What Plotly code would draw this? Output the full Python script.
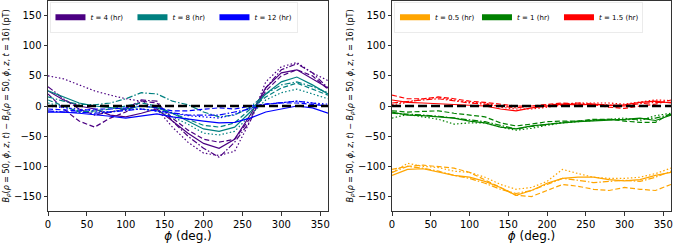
import plotly.graph_objects as go

phi = [0, 20, 40, 60, 80, 100, 120, 140, 160, 180, 200, 220, 240, 260, 280, 300, 320, 340, 360]

# Left panel: t = 4, 8, 12 hr; four line styles each
t4_solid   = [25, 10, 0, -5, -15, -18, -12, -5, -25, -45, -62, -70, -55, -15, 30, 55, 60, 45, 30]
t4_dashed  = [20, -5, -25, -35, -20, -10, 8, 5, -20, -40, -55, -60, -55, -20, 25, 50, 60, 50, 28]
t4_dashdot = [32, 12, -5, -15, -10, -5, 10, 8, -25, -50, -70, -85, -60, -25, 30, 60, 70, 55, 30]
t4_dotted  = [50, 45, 35, 25, 18, 12, 8, -5, -35, -60, -78, -82, -75, -25, 40, 65, 72, 55, 42]

t8_solid   = [25, 15, 5, 0, -2, -5, 0, -3, -12, -25, -38, -42, -35, -10, 20, 40, 48, 35, 20]
t8_dashed  = [10, 0, -10, -8, -5, 0, 5, 0, -12, -22, -32, -35, -28, -5, 15, 30, 38, 28, 18]
t8_dashdot = [15, 8, 3, 2, 5, 12, 22, 20, 8, 2, -10, -18, -15, -2, 20, 35, 40, 32, 22]
t8_dotted  = [5, -2, -8, -10, -10, -5, -5, -8, -18, -30, -45, -48, -42, -15, 10, 22, 28, 20, 12]

t12_solid   = [-10, -10, -12, -14, -17, -20, -17, -13, -18, -22, -25, -28, -27, -20, -10, -5, 0, -3, -12]
t12_dashed  = [-5, -6, -8, -5, -5, -3, 0, -3, -8, -8, -5, -3, -5, 0, 3, 5, 5, 3, 0]
t12_dashdot = [-8, -10, -10, -12, -10, -8, -5, -8, -12, -15, -15, -15, -10, -5, 3, 6, 8, 5, 0]
t12_dotted  = [0, -3, -5, -8, -10, -6, -5, -8, -12, -16, -18, -20, -14, -3, 3, 5, 8, 5, 3]

# Right panel: t = 0.5, 1, 1.5 hr
t05_solid   = [-115, -105, -104, -110, -115, -118, -125, -135, -148, -140, -128, -120, -118, -118, -122, -124, -122, -115, -110]
t05_dashed  = [-105, -100, -98, -100, -103, -110, -122, -135, -148, -150, -140, -130, -133, -138, -140, -135, -138, -140, -130]
t05_dashdot = [-110, -100, -103, -108, -115, -120, -128, -138, -145, -140, -130, -120, -123, -127, -125, -123, -125, -118, -108]
t05_dotted  = [-110, -95, -100, -102, -108, -110, -118, -130, -138, -135, -125, -105, -112, -118, -120, -120, -118, -112, -103]

t1_solid   = [-10, -15, -16, -18, -20, -25, -28, -35, -38, -33, -30, -28, -26, -25, -23, -22, -20, -24, -15]
t1_dashed  = [-8, -10, -9, -8, -12, -15, -18, -28, -33, -30, -26, -25, -25, -22, -22, -25, -27, -27, -12]
t1_dashdot = [-12, -13, -15, -17, -20, -22, -26, -32, -38, -34, -30, -27, -25, -24, -22, -23, -22, -20, -14]
t1_dotted  = [-20, -14, -18, -22, -30, -28, -28, -35, -40, -37, -32, -28, -26, -24, -22, -20, -24, -16, -12]

t15_solid   = [10, 6, 5, 4, 3, 1, 0, -5, -8, -3, 0, 3, 2, 3, 1, 2, 6, 8, 5]
t15_dashed  = [18, 12, 12, 15, 12, 8, 6, 3, 0, 0, 2, 5, 3, 2, -2, -4, 0, 3, 10]
t15_dashdot = [5, 8, 10, 12, 8, 5, 3, 0, -3, 0, 2, 4, 5, 3, 2, 0, 4, 6, 6]
t15_dotted  = [2, 6, 12, 14, 10, 6, 5, -2, -5, -5, -2, 2, 5, 5, 5, 3, 6, 10, 9]

zero_x = [0, 360]
zero_y = [0, 0]

x_ticks = [0, 50, 100, 150, 200, 250, 300, 350]
y_ticks = [-150, -100, -50, 0, 50, 100, 150]

left_groups = [
    ("<i>t</i> = 4 (hr)", "#4b0082", [t4_solid, t4_dashed, t4_dashdot, t4_dotted]),
    ("<i>t</i> = 8 (hr)", "#008080", [t8_solid, t8_dashed, t8_dashdot, t8_dotted]),
    ("<i>t</i> = 12 (hr)", "#0000ff", [t12_solid, t12_dashed, t12_dashdot, t12_dotted]),
]
right_groups = [
    ("<i>t</i> = 0.5 (hr)", "#ffa500", [t05_solid, t05_dashed, t05_dashdot, t05_dotted]),
    ("<i>t</i> = 1 (hr)", "#008000", [t1_solid, t1_dashed, t1_dashdot, t1_dotted]),
    ("<i>t</i> = 1.5 (hr)", "#ff0000", [t15_solid, t15_dashed, t15_dashdot, t15_dotted]),
]
dashes = ["solid", "5px,2.5px", "6px,2px,1.5px,2px", "1.5px,2.2px"]

fig = go.Figure()

def add_group(groups, xa, ya, legend):
    for name, color, series in groups:
        for s, d in zip(series, dashes):
            fig.add_trace(go.Scatter(x=phi, y=s, mode="lines", xaxis=xa, yaxis=ya,
                                     line=dict(color=color, width=1.2, dash=d),
                                     showlegend=False, hoverinfo="skip"))
        fig.add_trace(go.Scatter(x=[None], y=[None], mode="lines", xaxis=xa, yaxis=ya,
                                 name=name, legend=legend,
                                 line=dict(color=color, width=6)))
    fig.add_trace(go.Scatter(x=zero_x, y=zero_y, mode="lines", xaxis=xa, yaxis=ya,
                             line=dict(color="black", width=2.6, dash="9px,4px"),
                             showlegend=False, hoverinfo="skip"))

add_group(left_groups, "x", "y", "legend")
add_group(right_groups, "x2", "y2", "legend2")

ytitle = ("<i>B</i><sub><i>ρ</i></sub>(<i>ρ</i> = 50, <i>ϕ</i>, <i>z</i>, <i>t</i>) − "
          "<i>B</i><sub><i>ρ</i></sub>(<i>ρ</i> = 50, <i>ϕ</i>, <i>z</i>, <i>t</i> = 16) (pT)")

axis_common = dict(showline=True, linecolor="#333", linewidth=1, mirror=True,
                   ticks="outside", ticklen=3.5, tickcolor="#333", showgrid=False,
                   zeroline=False, tickfont=dict(size=10, color="black"))

legend_common = dict(xref="paper", yref="paper", xanchor="left", yanchor="top",
                     orientation="h", font=dict(size=7), bgcolor="rgba(255,255,255,0.8)",
                     bordercolor="#ddd", borderwidth=0.6, itemwidth=30, tracegroupgap=0,
                     entrywidth=37, entrywidthmode="pixels")

fig.update_layout(
    width=673, height=243,
    margin=dict(l=48, r=2, t=1, b=32),
    paper_bgcolor="white", plot_bgcolor="white",
    font=dict(family="DejaVu Sans", color="black"),
    xaxis=dict(domain=[0, 0.4494], range=[0, 360], tickvals=x_ticks,
               title=dict(text="<i>ϕ</i> (deg.)", font=dict(size=12), standoff=2), **axis_common),
    yaxis=dict(range=[-174, 174], tickvals=y_ticks,
               title=dict(text=ytitle, font=dict(size=8), standoff=3), **axis_common),
    xaxis2=dict(domain=[0.5522, 1], range=[0, 360], tickvals=x_ticks, anchor="y2",
                title=dict(text="<i>ϕ</i> (deg.)", font=dict(size=12), standoff=2), **axis_common),
    yaxis2=dict(range=[-174, 174], tickvals=y_ticks, anchor="x2",
                title=dict(text=ytitle, font=dict(size=8), standoff=3), **axis_common),
    legend=dict(x=0.003, y=0.995, **legend_common),
    legend2=dict(x=0.556, y=0.995, **legend_common),
)

fig.write_html("out.html", post_script="document.body.style.margin='0';",
               config={"displayModeBar": False})
